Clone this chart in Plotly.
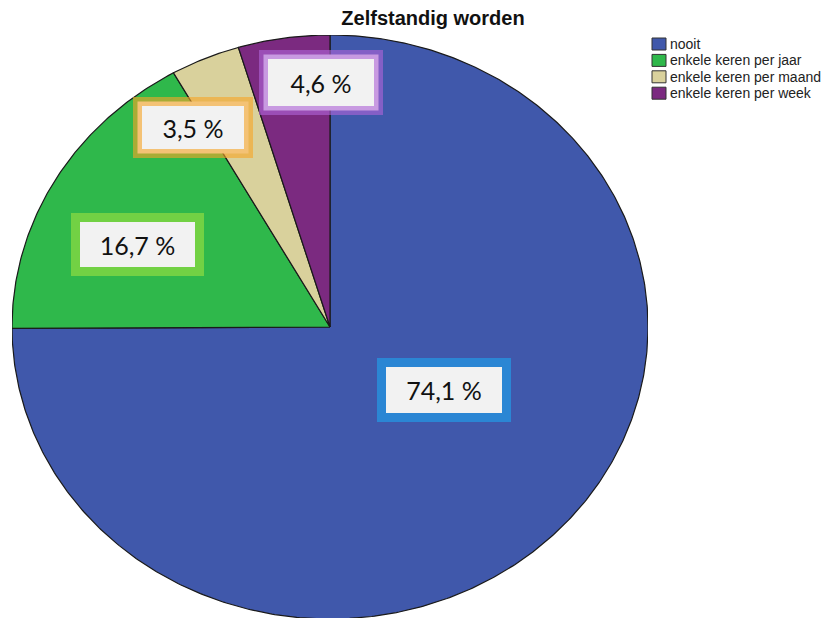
import numpy as np
import plotly.graph_objects as go

# Frequency of "Zelfstandig worden" (percent of respondents)
categories = ["nooit", "enkele keren per jaar", "enkele keren per maand", "enkele keren per week"]
percentages = [74.1, 16.7, 3.5, 4.6]

# Styling
slice_colors = ["#4058ab", "#2fb84b", "#d9d19c", "#7b2a80"]
glow_colors = ["#2b86d4", "#72d144", "rgba(245,165,40,0.62)", "rgba(175,100,215,0.62)"]
label_pos = [(0.358, -0.216), (-0.604, 0.284), (-0.431, 0.682), (-0.028, 0.839)]
label_box = [(108, 38), (107, 37), (94, 35), (98, 39)]

W, H = 828, 618
ML, MR, MT, MB = 12, 180, 35, 0
CX, CY, RX, RY = 330, 327, 318, 292          # pie centre / radii in pixels

plot_w = W - ML - MR
plot_h = H - MT - MB
x_range = [(ML - CX) / RX, (ML + plot_w - CX) / RX]
y_range = [(CY - (MT + plot_h)) / RY, (CY - MT) / RY]

fig = go.Figure()

# Slices: clockwise from 12 o'clock, each sized by its share of the total
total = sum(percentages)
start = 0.0
for name, val, col in zip(categories, percentages, slice_colors):
    sweep = 360.0 * val / total
    n = max(int(sweep * 2), 4)
    theta = np.radians(90.0 - np.linspace(start, start + sweep, n))
    xs = np.concatenate([[0.0], np.cos(theta), [0.0]])
    ys = np.concatenate([[0.0], np.sin(theta), [0.0]])
    fig.add_trace(go.Scatter(
        x=xs, y=ys, mode="lines", fill="toself", fillcolor=col,
        line=dict(color="#1a1a1a", width=1.2), name=name, showlegend=False,
        hoverinfo="name",
    ))
    start += sweep

# Value labels in white boxes with coloured borders
for val, (lx, ly), (bw_, bh_), gcol in zip(percentages, label_pos, label_box, glow_colors):
    txt = f"{val:.1f} %".replace(".", ",")
    fig.add_annotation(
        x=lx, y=ly, xref="x", yref="y", text=txt, showarrow=False,
        font=dict(family="Lato", size=25, color="#111111"),
        bgcolor="#f2f2f2", bordercolor=gcol, borderwidth=9, borderpad=4,
        width=bw_, height=bh_, align="center", valign="middle",
    )

# Legend: colour swatch + category name, one row each
def px_to_paper_x(px):
    return (px - ML) / plot_w

def px_to_paper_y(py):
    return (MT + plot_h - py) / plot_h

row0, row_step = 44.0, 16.4
for i, (name, col) in enumerate(zip(categories, slice_colors)):
    yc = row0 + i * row_step
    fig.add_shape(
        type="rect", xref="paper", yref="paper",
        x0=px_to_paper_x(652), x1=px_to_paper_x(666),
        y0=px_to_paper_y(yc + 6), y1=px_to_paper_y(yc - 6),
        fillcolor=col, line=dict(color="#333333", width=1),
    )
    fig.add_annotation(
        x=px_to_paper_x(668), y=px_to_paper_y(yc), xref="paper", yref="paper",
        text=name, showarrow=False, xanchor="left", yanchor="middle",
        font=dict(family="Liberation Sans, Arial", size=14, color="#222222"),
    )

fig.update_layout(
    width=W, height=H,
    margin=dict(l=ML, r=MR, t=MT, b=MB, pad=0),
    paper_bgcolor="white", plot_bgcolor="white",
    title=dict(
        text="<b>Zelfstandig worden</b>", x=433 / W, xanchor="center",
        y=1 - 18 / H, yanchor="middle", yref="container",
        font=dict(family="Liberation Sans, Arial", size=20, color="#111111"),
    ),
    xaxis=dict(range=x_range, visible=False, fixedrange=True),
    yaxis=dict(range=y_range, visible=False, fixedrange=True),
    showlegend=False,
)

fig.write_html("out.html")
